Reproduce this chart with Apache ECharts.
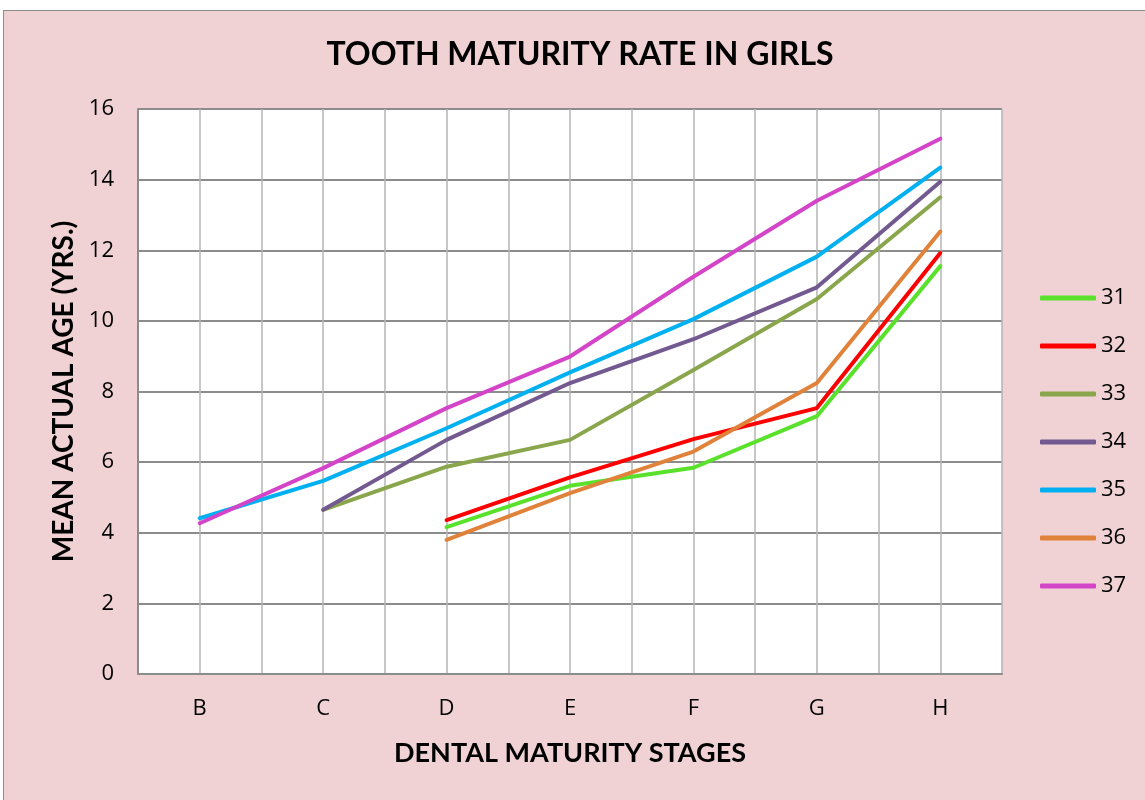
<!DOCTYPE html>
<html>
<head>
<meta charset="utf-8">
<script src="https://cdn.jsdelivr.net/npm/echarts@6/dist/echarts.min.js"></script>
<style>
	html, body { margin: 0; padding: 0; background: #fff; }
	#main { position: absolute; left: 3px; top: 10px; width: 1141px; height: 789px; border-left: 1px solid #8c8c8c; border-top: 1px solid #8c8c8c; }
</style>
</head>
<body>
<div id="main"></div>
<script>
var stages = ['B', 'C', 'D', 'E', 'F', 'G', 'H'];
var names = ['31', '32', '33', '34', '35', '36', '37'];
var colors = ['#5ae12c', '#ff0000', '#8aa64c', '#725990', '#00b0f0', '#e0823a', '#d444c8'];

// mean actual age per stage, null where there is no value
var t31 = [null, null, 4.16, 5.33, 5.84, 7.30, 11.55];
var t32 = [null, null, 4.36, 5.57, 6.65, 7.53, 11.92];
var t33 = [null, 4.65, 5.87, 6.63, 8.61, 10.62, 13.50];
var t34 = [null, 4.65, 6.63, 8.24, 9.48, 10.95, 13.94];
var t35 = [4.41, 5.47, 6.96, 8.54, 10.05, 11.82, 14.34];
var t36 = [null, null, 3.80, 5.12, 6.30, 8.24, 12.53];
var t37 = [4.27, 5.83, 7.53, 8.99, 11.25, 13.40, 15.16];
var allData = [t31, t32, t33, t34, t35, t36, t37];

var myChart = echarts.init(document.getElementById('main'));

var series = [];
for (var s = 0; s < names.length; s++) {
	var pts = [];
	for (var i = 0; i < stages.length; i++) {
		if (allData[s][i] != null) pts.push([i, allData[s][i]]);
	}
	series.push({
		name: names[s],
		type: 'line',
		data: pts,
		showSymbol: false,
		symbol: 'none',
		lineStyle: { width: 4, color: colors[s], cap: 'round', join: 'round' },
		itemStyle: { color: colors[s] }
	});
}

var option = {
	backgroundColor: '#f0d2d4',
	animation: false,
	title: {
		text: 'TOOTH MATURITY RATE IN GIRLS',
		left: 571,
		textAlign: 'center',
		top: 23,
		textStyle: { fontFamily: 'Lato', fontWeight: 'bold', fontSize: 32, color: '#000' }
	},
	legend: {
		orient: 'vertical',
		left: 1031,
		top: 271,
		itemWidth: 56,
		itemHeight: 5,
		itemGap: 26,
		icon: 'roundRect',
		textStyle: { fontFamily: 'Open Sans', fontSize: 22, color: '#000', lineHeight: 22 },
		data: names
	},
	grid: { left: 134, right: 143, top: 98, bottom: 126, backgroundColor: '#fff', show: true, borderWidth: 0 },
	xAxis: {
		type: 'value',
		min: -0.5,
		max: 6.5,
		interval: 0.5,
		name: 'DENTAL MATURITY STAGES',
		nameLocation: 'middle',
		nameGap: 66,
		nameTextStyle: { fontFamily: 'Lato', fontWeight: 'bold', fontSize: 27, color: '#000' },
		axisLine: { show: true, onZero: false, lineStyle: { color: '#8c8c8c', width: 2 } },
		axisTick: { show: false },
		axisLabel: {
			margin: 24,
			fontFamily: 'Open Sans', fontSize: 22, color: '#000',
			formatter: function(v) { return Number.isInteger(v) ? stages[v] : ''; }
		},
		splitLine: { show: true, lineStyle: { color: '#b4b4b4', width: 1.5 } }
	},
	yAxis: {
		type: 'value',
		min: 0,
		max: 16,
		interval: 2,
		name: 'MEAN ACTUAL AGE (YRS.)',
		nameLocation: 'middle',
		nameGap: 40,
		nameTextStyle: { fontFamily: 'Lato', fontWeight: 'bold', fontSize: 28, color: '#000' },
		axisLine: { show: true, onZero: false, lineStyle: { color: '#8c8c8c', width: 2 } },
		axisTick: { show: false },
		axisLabel: { margin: 24, fontFamily: 'Open Sans', fontSize: 22, color: '#000' },
		splitLine: { show: true, lineStyle: { color: '#8c8c8c', width: 2 } }
	},
	series: series
};
myChart.setOption(option);
</script>
</body>
</html>
